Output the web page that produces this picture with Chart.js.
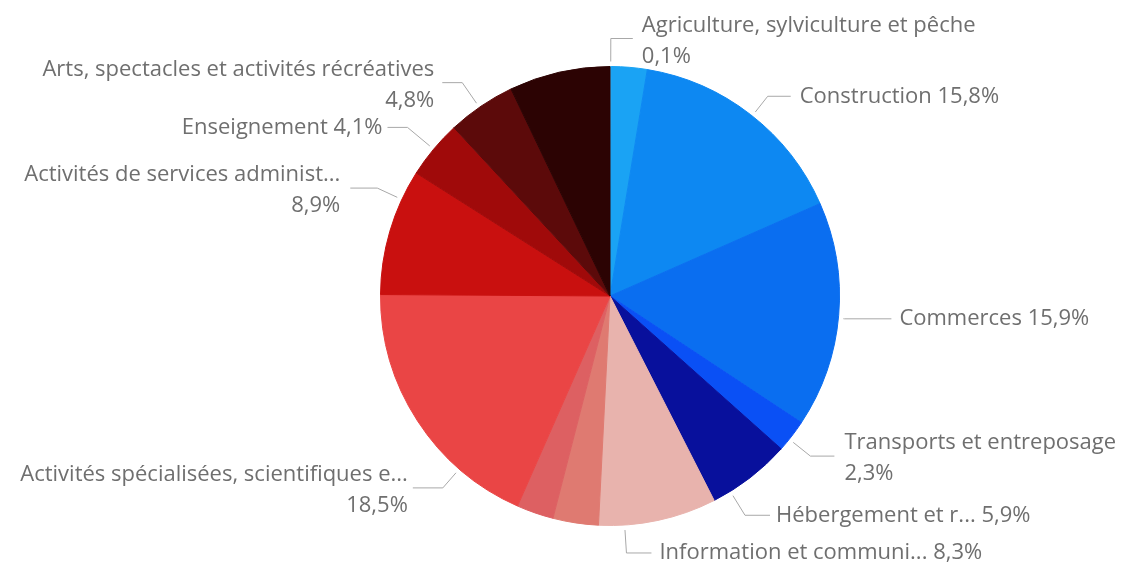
<!DOCTYPE html>
<html lang="fr">
<head>
<meta charset="utf-8">
<title>Répartition par secteur</title>
<script src="https://cdn.jsdelivr.net/npm/chart.js@4.4.1/dist/chart.umd.min.js"></script>
<style>
  html, body { margin: 0; padding: 0; background: #fff; }
  #wrap { width: 1122px; height: 567px; position: relative; }
</style>
</head>
<body>
<div id="wrap"><canvas id="sectorPie"></canvas></div>
<script>
// secteurs, dans l'ordre du tracé (sens horaire depuis midi)
const categories = [
  'Agriculture, sylviculture et pêche',
  'Industrie manufacturière, industries extractives et autres',
  'Construction',
  'Commerces',
  'Transports et entreposage',
  'Hébergement et restauration',
  'Information et communication',
  'Activités financières et d\'assurance',
  'Activités immobilières',
  'Activités spécialisées, scientifiques et techniques',
  'Activités de services administratifs et de soutien',
  'Enseignement',
  'Arts, spectacles et activités récréatives',
  'Autres activités de services',
];

// parts en %
const shares = [0.1, 2.5, 15.8, 15.9, 2.3, 5.9, 8.3, 3.2, 2.6, 18.5, 8.9, 4.1, 4.8, 7.1];

// textes affichés (null = pas d'étiquette)
const labelNames = [
  'Agriculture, sylviculture et pêche',
  null,
  'Construction',
  'Commerces',
  'Transports et entreposage',
  'Hébergement et r...',
  'Information et communi...',
  null,
  null,
  'Activités spécialisées, scientifiques e...',
  'Activités de services administ...',
  'Enseignement',
  'Arts, spectacles et activités récréatives',
  null,
];

const sliceColors = [
  '#45b8f7', '#1aa3f4', '#0d88f2', '#0a6ef0', '#0a50f5', '#08109c', '#e8b3ad',
  '#df7a71', '#dd6062', '#ea4545', '#c9100f', '#a00a0a', '#5c0a0a', '#2c0303',
];

// position des lignes de rappel (da en degrés)
const labelLayout = [
  { da: 0, elbow: 28, hlen: 22, gap: 9, wrap: true },
  null,
  { da: 0.5, elbow: 25, hlen: 23, gap: 9 },
  { da: 0.7, elbow: 6, hlen: 47, gap: 8 },
  { da: 1, elbow: 27, hlen: 24, gap: 10, wrap: true },
  { da: 6, elbow: 28, hlen: 25, gap: 6 },
  { da: 8.4, elbow: 28, hlen: 25, gap: 8 },
  null,
  null,
  { da: -16, elbow: 25, hlen: 30, gap: 5, wrap: true },
  { da: 8.5, elbow: 27, hlen: 27, gap: 10, wrap: true },
  { da: 0, elbow: 34, hlen: 20, gap: 5 },
  { da: -0.5, elbow: 30, hlen: 20, gap: 8, wrap: true },
  null,
];

function fmtPct(v, total) {
  return (v / total * 100).toFixed(1).replace('.', ',') + '%';
}

const leaderLabels = {
  id: 'leaderLabels',
  afterDatasetsDraw(chart) {
    const ctx = chart.ctx;
    const arcs = chart.getDatasetMeta(0).data;
    const total = shares.reduce((a, b) => a + b, 0);
    ctx.save();
    ctx.font = '22px "Open Sans", sans-serif';
    ctx.fillStyle = '#6f6f6f';
    ctx.strokeStyle = '#a8a8a8';
    ctx.lineWidth = 1;
    ctx.textBaseline = 'middle';

    arcs.forEach((arc, i) => {
      const name = labelNames[i];
      const lay = labelLayout[i];
      if (!name || !lay) return;
      const { x, y, startAngle, endAngle, outerRadius } =
        arc.getProps(['x', 'y', 'startAngle', 'endAngle', 'outerRadius'], true);
      const a = (startAngle + endAngle) / 2 + lay.da * Math.PI / 180;
      const cos = Math.cos(a);
      const sin = Math.sin(a);
      const side = cos >= 0 ? 1 : -1;
      const r0 = outerRadius + 5;
      const r1 = outerRadius + lay.elbow;
      const x0 = x + cos * r0, y0 = y + sin * r0;
      const x1 = x + cos * r1, y1 = y + sin * r1;
      const x2 = x1 + side * lay.hlen;

      ctx.beginPath();
      ctx.moveTo(x0, y0);
      ctx.lineTo(x1, y1);
      ctx.lineTo(x2, y1);
      ctx.stroke();

      const tx = x2 + side * lay.gap;
      const pct = fmtPct(shares[i], total);
      ctx.textAlign = side > 0 ? 'left' : 'right';
      if (lay.wrap) {
        ctx.fillText(name, tx, y1 - 13);
        ctx.fillText(pct, tx, y1 + 18);
      } else {
        ctx.fillText(name + ' ' + pct, tx, y1);
      }
    });
    ctx.restore();
  },
};

new Chart(document.getElementById('sectorPie'), {
  type: 'pie',
  data: {
    labels: categories,
    datasets: [{
      data: shares,
      backgroundColor: sliceColors,
      borderColor: sliceColors,
      borderWidth: 1,
    }],
  },
  options: {
    responsive: true,
    maintainAspectRatio: false,
    animation: false,
    layout: { padding: { left: 200, right: 102, top: 66, bottom: 41 } },
    plugins: {
      legend: { display: false },
      tooltip: { enabled: true },
    },
  },
  plugins: [leaderLabels],
});
</script>
</body>
</html>
